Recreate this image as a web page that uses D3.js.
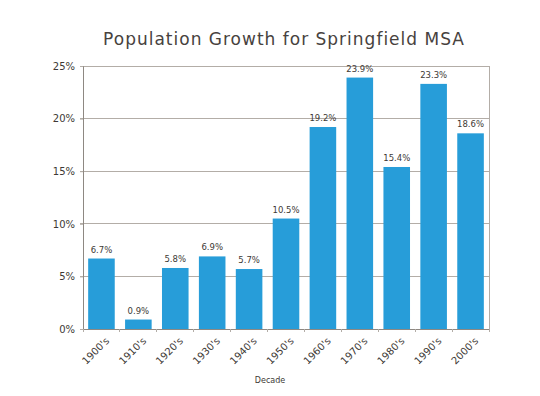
<!DOCTYPE html>
<html>
<head>
<meta charset="utf-8">
<script src="https://cdn.jsdelivr.net/npm/d3@7"></script>
<style>
  body { margin: 0; background: #fff; }
  text { font-family: "DejaVu Sans", sans-serif; fill: #3d3935; }
</style>
</head>
<body>
<div id="chart"></div>
<script>
var decades = ["1900's", "1910's", "1920's", "1930's", "1940's", "1950's", "1960's", "1970's", "1980's", "1990's", "2000's"];
var growth = [6.7, 0.9, 5.8, 6.9, 5.7, 10.5, 19.2, 23.9, 15.4, 23.3, 18.6];
var yTicks = [0, 5, 10, 15, 20, 25];

var width = 540, height = 396;
var m = {top: 66, right: 51, bottom: 67, left: 83};

var svg = d3.select("#chart").append("svg").attr("width", width).attr("height", height);

var x = d3.scaleBand().domain(decades).range([m.left, width - m.right]).paddingInner(0.28).paddingOuter(0.14);
var y = d3.scaleLinear().domain([0, 25]).range([height - m.bottom, m.top]);

// title
svg.append("text")
  .attr("x", 284).attr("y", 45)
  .attr("text-anchor", "middle")
  .style("font-size", "17px")
  .style("letter-spacing", "1px")
  .style("fill", "#47423e")
  .text("Population Growth for Springfield MSA");

// gridlines
svg.append("g")
  .selectAll("line").data(yTicks).enter().append("line")
  .attr("x1", m.left - 3).attr("x2", width - m.right)
  .attr("y1", function(d) { return y(d); }).attr("y2", function(d) { return y(d); })
  .attr("stroke", "#b3ada7").attr("stroke-width", 1)
  .attr("shape-rendering", "crispEdges");

// right border
svg.append("line")
  .attr("x1", width - m.right).attr("x2", width - m.right)
  .attr("y1", y(25)).attr("y2", y(0))
  .attr("stroke", "#b3ada7").attr("shape-rendering", "crispEdges");

// y axis
var yAxis = svg.append("g")
  .attr("transform", "translate(" + m.left + ",0)")
  .call(d3.axisLeft(y).tickValues(yTicks).tickSize(3).tickPadding(5).tickFormat(function(d) { return d + "%"; }));
yAxis.select(".domain").attr("stroke", "#8e8882");
yAxis.selectAll(".tick line").attr("stroke", "#b3ada7");
yAxis.selectAll("text").style("font-size", "10px").style("fill", "#3d3935");

// bars
svg.selectAll(".bar").data(growth).enter().append("rect")
  .attr("class", "bar")
  .attr("x", function(d, i) { return x(decades[i]); })
  .attr("width", x.bandwidth())
  .attr("y", function(d) { return y(d); })
  .attr("height", function(d) { return y(0) - y(d); })
  .attr("fill", "#279dd9");

// value labels
svg.selectAll(".val").data(growth).enter().append("text")
  .attr("class", "val")
  .attr("x", function(d, i) { return x(decades[i]) + x.bandwidth() / 2; })
  .attr("y", function(d) { return y(d) - 6; })
  .attr("text-anchor", "middle")
  .style("font-size", "8.5px")
  .text(function(d) { return d.toFixed(1) + "%"; });

// x axis
var xAxis = svg.append("g")
  .attr("transform", "translate(0," + y(0) + ")")
  .call(d3.axisBottom(x).tickSize(0).tickPadding(0));
xAxis.select(".domain").attr("stroke", "#8e8882");
xAxis.selectAll(".tick text")
  .attr("text-anchor", "end")
  .attr("transform", "translate(6,10) rotate(-45)")
  .attr("dy", "0.35em")
  .style("font-size", "10px")
  .style("fill", "#3d3935");

// small ticks at band edges
var edges = decades.map(function(d) { return x(d) - x.step() * x.paddingInner() / 2; });
edges.push(width - m.right);
svg.append("g").selectAll("line").data(edges).enter().append("line")
  .attr("x1", function(d) { return d; }).attr("x2", function(d) { return d; })
  .attr("y1", y(0)).attr("y2", y(0) + 3)
  .attr("stroke", "#b3ada7").attr("shape-rendering", "crispEdges");

// x axis title
svg.append("text")
  .attr("x", 270).attr("y", 383)
  .attr("text-anchor", "middle")
  .style("font-size", "8px")
  .text("Decade");
</script>
</body>
</html>
